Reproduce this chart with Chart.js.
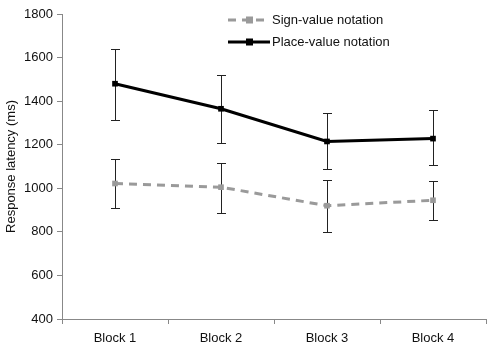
<!DOCTYPE html>
<html><head><meta charset="utf-8">
<script src="https://cdn.jsdelivr.net/npm/chart.js@4/dist/chart.umd.min.js"></script>
<style>html,body{margin:0;padding:0;background:#fff}#wrap{width:490px;height:350px}</style>
</head><body><div id="wrap"><canvas id="c" width="490" height="350"></canvas></div>
<script>
const categories = ["Block 1","Block 2","Block 3","Block 4"];
const signValues = [1022, 1005, 920, 945];
const signLow = [910, 888, 800, 855];
const signHigh = [1135, 1115, 1040, 1035];
const placeValues = [1480, 1365, 1215, 1228];
const placeLow = [1312, 1210, 1090, 1105];
const placeHigh = [1640, 1520, 1345, 1360];
const yTicks = [400, 600, 800, 1000, 1200, 1400, 1600, 1800];
const seriesNames = ["Sign-value notation", "Place-value notation"];

const FONT = "'Liberation Sans', Arial, sans-serif";

const errorBars = {
  id: 'errorBars',
  beforeDatasetsDraw(chart) {
    const ctx = chart.ctx, x = chart.scales.x, y = chart.scales.y;
    const sets = [[signLow, signHigh], [placeLow, placeHigh]];
    ctx.save();
    ctx.strokeStyle = '#222';
    ctx.lineWidth = 1;
    sets.forEach(([lo, hi]) => {
      categories.forEach((c, i) => {
        const px = Math.round(x.getPixelForValue(i)) + 0.5;
        const y1 = Math.round(y.getPixelForValue(hi[i])) + 0.5;
        const y2 = Math.round(y.getPixelForValue(lo[i])) + 0.5;
        ctx.beginPath();
        ctx.moveTo(px, y1); ctx.lineTo(px, y2);
        ctx.moveTo(px - 4.5, y1); ctx.lineTo(px + 4.5, y1);
        ctx.moveTo(px - 4.5, y2); ctx.lineTo(px + 4.5, y2);
        ctx.stroke();
      });
    });
    ctx.restore();
  }
};

const customLegend = {
  id: 'customLegend',
  afterDraw(chart) {
    const ctx = chart.ctx;
    ctx.save();
    ctx.font = '13px ' + FONT;
    ctx.fillStyle = '#111';
    ctx.textBaseline = 'middle';
    const ds0 = chart.data.datasets[0], ds1 = chart.data.datasets[1];
    let yy = 20;
    ctx.strokeStyle = ds0.borderColor; ctx.lineWidth = ds0.borderWidth;
    ctx.setLineDash(ds0.borderDash);
    ctx.beginPath(); ctx.moveTo(228, yy); ctx.lineTo(270, yy); ctx.stroke();
    ctx.setLineDash([]);
    ctx.fillStyle = ds0.pointBackgroundColor;
    ctx.fillRect(246, yy - 3.5, 7, 7);
    ctx.fillStyle = '#111';
    ctx.fillText(seriesNames[0], 272, yy);
    yy = 42;
    ctx.strokeStyle = ds1.borderColor; ctx.lineWidth = ds1.borderWidth;
    ctx.beginPath(); ctx.moveTo(228, yy); ctx.lineTo(270, yy); ctx.stroke();
    ctx.fillStyle = ds1.pointBackgroundColor;
    ctx.fillRect(246, yy - 3.5, 7, 7);
    ctx.fillStyle = '#111';
    ctx.fillText(seriesNames[1], 272, yy);
    ctx.restore();
  }
};

new Chart(document.getElementById('c'), {
  type: 'line',
  data: {
    labels: categories,
    datasets: [
      { label: seriesNames[0], data: signValues, borderColor: '#9a9a9a', borderWidth: 3,
        borderDash: [8, 6], pointStyle: 'rect', pointRadius: 4, pointBackgroundColor: '#9a9a9a',
        pointBorderColor: '#9a9a9a', pointBorderWidth: 0, tension: 0 },
      { label: seriesNames[1], data: placeValues, borderColor: '#000', borderWidth: 3,
        pointStyle: 'rect', pointRadius: 4, pointBackgroundColor: '#000',
        pointBorderColor: '#000', pointBorderWidth: 0, tension: 0 }
    ]
  },
  options: {
    responsive: false, animation: false,
    layout: { padding: { top: 14, right: 3, left: 4, bottom: 0 } },
    plugins: { legend: { display: false }, tooltip: { enabled: false } },
    scales: {
      x: {
        offset: true,
        grid: { display: true, drawOnChartArea: false, drawTicks: true, tickLength: 5, color: '#888', offset: true },
        border: { display: true, color: '#888', width: 1 },
        ticks: { color: '#111', font: { size: 13, family: FONT }, padding: 7, maxRotation: 0 },
        afterFit(s) { s.height = 31; }
      },
      y: {
        min: 400, max: 1800,
        afterBuildTicks(s) { s.ticks = yTicks.map(v => ({ value: v })); },
        grid: { display: true, drawOnChartArea: false, drawTicks: true, tickLength: 5, color: '#888' },
        border: { display: true, color: '#888', width: 1 },
        ticks: { color: '#111', font: { size: 13, family: FONT }, padding: 4, callback: v => String(v) },
        title: { display: true, text: 'Response latency (ms)', color: '#111', font: { size: 13, family: FONT }, padding: { top: 0, bottom: 4 } },
        afterFit(s) { s.width = 58; }
      }
    }
  },
  plugins: [errorBars, customLegend]
});
</script></body></html>
